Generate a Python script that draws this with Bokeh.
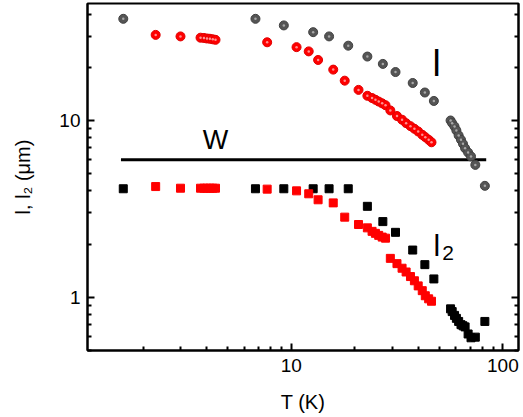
from bokeh.plotting import figure
from bokeh.models import Range1d, LogAxis, FixedTicker, Label, CustomJSTickFormatter
from bokeh.embed import file_html
from bokeh.resources import INLINE

FONT = "Liberation Sans"

# ---- data ----
T_gray = [1.61, 6.78, 9.23, 12.7, 15.1, 18.6, 22.9, 27.1, 31.1, 37.5, 42.8, 47.2,
          56.6, 57.6, 59.1, 60.3, 61.8, 63.4, 64.8, 66.3, 68.5, 70.7, 74.1, 82.2]
l_gray = [37.6, 37.6, 34.5, 31.6, 29.9, 26.5, 23.0, 20.9, 18.8, 16.3, 14.4, 12.9,
          10.0, 9.66, 9.25, 8.78, 8.23, 7.78, 7.38, 6.97, 6.59, 6.26, 5.61, 4.27]
l2_black = [4.11, 4.11, 4.11, 4.11, 4.11, 4.11, 3.27, 2.68, 2.33, 1.85, 1.53, 1.27,
            0.86, 0.83, 0.79, 0.76, 0.73, 0.70, 0.69, 0.68, 0.62, 0.59, 0.595, 0.73]

T_red = [2.29, 3.0, 3.73, 3.87, 4.0, 4.13, 4.26, 4.39, 7.7, 10.6, 12.1, 13.4, 15.8,
         17.9, 20.8, 22.9, 24.1, 25.0, 25.9, 26.9, 27.9, 29.4, 31.6, 33.4, 34.9,
         36.6, 38.2, 39.8, 41.6, 43.0, 44.6, 46.0]
l_red = [30.5, 29.9, 29.4, 29.3, 29.1, 29.0, 28.8, 28.6, 27.7, 26.0, 24.6, 22.0, 19.4,
         16.8, 14.9, 13.8, 13.4, 13.1, 12.8, 12.5, 12.2, 11.4, 10.6, 10.1, 9.66,
         9.29, 8.98, 8.67, 8.30, 8.05, 7.78, 7.53]
l2_red = [4.23, 4.14, 4.14, 4.14, 4.14, 4.14, 4.14, 4.14, 4.09, 4.0, 3.85, 3.56, 3.42,
          2.84, 2.58, 2.47, 2.36, 2.30, 2.24, 2.19, 2.16, 1.66, 1.55, 1.46, 1.39,
          1.31, 1.24, 1.16, 1.09, 1.02, 0.98, 0.95]

W_T = [1.57, 83.4]
W_val = [6.0, 6.0]

x_major = [10, 100]
x_minor = [2, 3, 4, 5, 6, 7, 8, 9, 20, 30, 40, 50, 60, 70, 80, 90]
y_major = [1, 10]
y_minor = [0.5, 0.6, 0.7, 0.8, 0.9, 2, 3, 4, 5, 6, 7, 8, 9, 20, 30, 40]

p = figure(width=523, height=417, x_axis_type="log", y_axis_type="log",
           x_range=Range1d(1.091, 118.5), y_range=Range1d(0.5, 45.9),
           output_backend="svg", toolbar_location=None,
           min_border_left=87, min_border_right=5, min_border_top=3, min_border_bottom=67)

p.grid.visible = False
p.outline_line_color = "black"
p.outline_line_width = 2
p.background_fill_color = "white"
p.border_fill_color = "white"

num_fmt = CustomJSTickFormatter(code="return String(Math.round(tick));")

def style_axis(ax):
    ax.axis_line_width = 2
    ax.major_tick_line_width = 2
    ax.minor_tick_line_width = 2
    ax.major_tick_in = 7
    ax.major_tick_out = 0
    ax.minor_tick_in = 4
    ax.minor_tick_out = 0
    ax.major_label_text_font = FONT
    ax.major_label_text_font_size = "19px"
    ax.major_label_text_color = "black"
    ax.axis_label_text_font = FONT
    ax.axis_label_text_font_size = "20px"
    ax.axis_label_text_font_style = "normal"
    ax.axis_label_text_color = "black"

xt = FixedTicker(ticks=x_major, minor_ticks=x_minor)
yt = FixedTicker(ticks=y_major, minor_ticks=y_minor)

p.xaxis.ticker = xt
p.yaxis.ticker = yt
p.xaxis.formatter = num_fmt
p.yaxis.formatter = num_fmt
style_axis(p.xaxis[0])
style_axis(p.yaxis[0])
p.xaxis.axis_label = "T (K)"
p.yaxis.axis_label = "l, l\u2082 (\u03bcm)"
p.xaxis.major_label_standoff = 8
p.xaxis.axis_label_standoff = 16
p.yaxis.major_label_standoff = 7
p.yaxis.axis_label_standoff = 22

ry = LogAxis(ticker=yt, formatter=CustomJSTickFormatter(code="return '';"))
style_axis(ry)
ry.major_label_text_font_size = "0px"
ry.major_label_standoff = 0
ry.axis_label_standoff = 0
p.add_layout(ry, "right")

# W line
p.line(W_T, W_val, line_color="black", line_width=3)

# l data (shaded spheres)
p.scatter(T_gray, l_gray, marker="circle", size=9, fill_color="#555555", line_color="#404040", line_width=1)
p.scatter(T_gray, l_gray, marker="circle", size=2.5, fill_color="#a8a8a8", line_color=None)
p.scatter(T_red, l_red, marker="circle", size=9, fill_color="#ff0000", line_color="#e00000", line_width=1)
p.scatter(T_red, l_red, marker="circle", size=2.5, fill_color="#ff9090", line_color=None)

# l2 data (squares)
p.scatter(T_gray, l2_black, marker="square", size=8, fill_color="black", line_color="black")
p.scatter(T_red, l2_red, marker="square", size=8, fill_color="#ff0000", line_color="#ff0000")

# text labels
p.add_layout(Label(x=4.39, y=7.78, text="W", text_font=FONT, text_font_size="27px",
                   text_align="center", text_baseline="alphabetic", text_color="black"))
p.add_layout(Label(x=48.6, y=21.0, text="l", text_font=FONT, text_font_size="37px",
                   text_align="center", text_baseline="alphabetic", text_color="black"))
p.add_layout(Label(x=48.8, y=1.96, text="l", text_font=FONT, text_font_size="30px",
                   text_align="center", text_baseline="alphabetic", text_color="black"))
p.add_layout(Label(x=51.7, y=1.77, text="2", text_font=FONT, text_font_size="21px",
                   text_align="left", text_baseline="alphabetic", text_color="black"))

open("out.html", "w").write(file_html(p, INLINE))
